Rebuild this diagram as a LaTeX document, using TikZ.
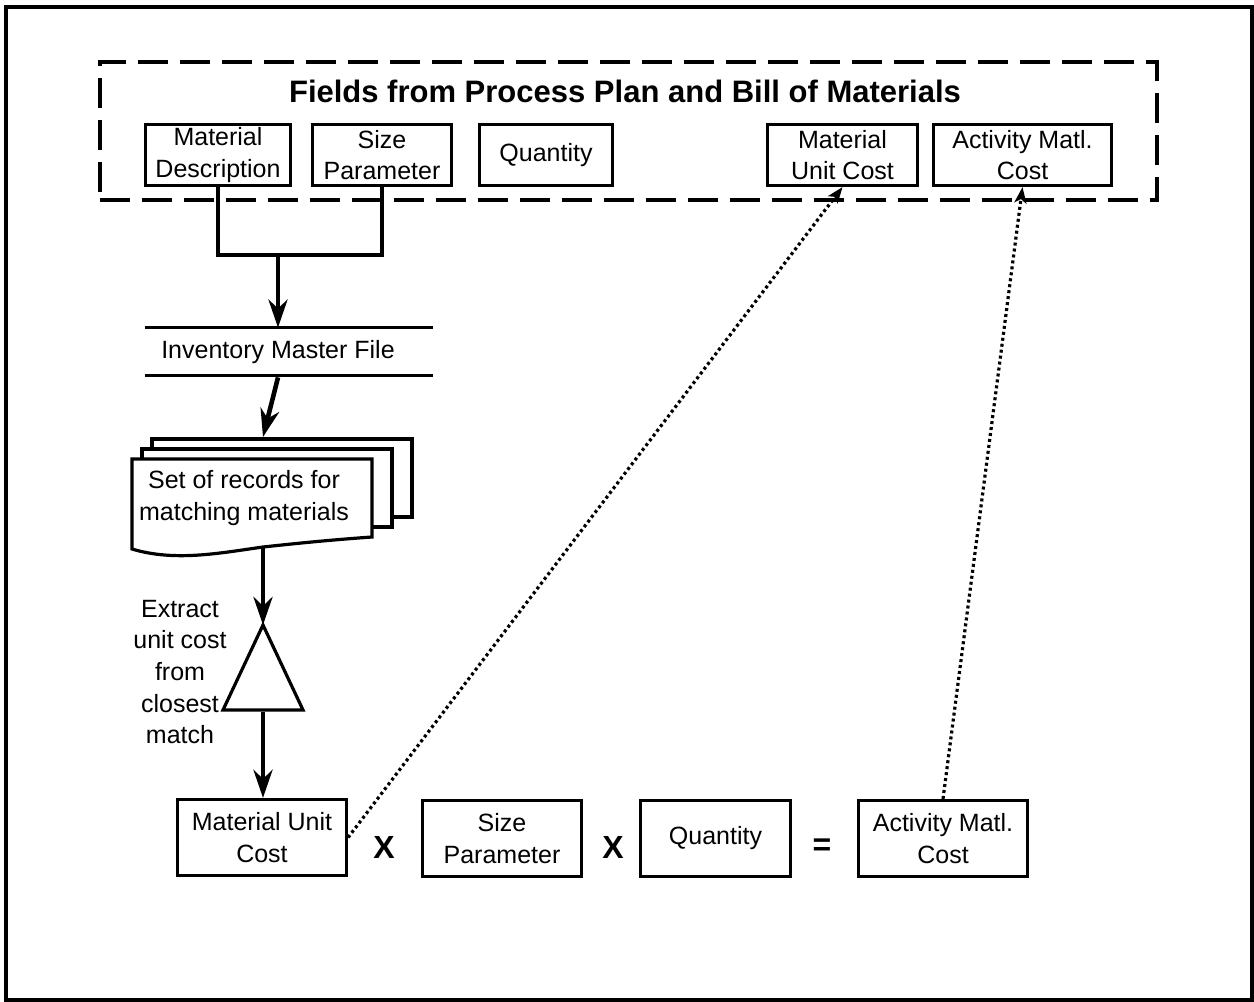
\documentclass[tikz,border=0pt]{standalone}
\usepackage{fontspec}
\setmainfont{Liberation Sans}
\usetikzlibrary{arrows.meta}

\begin{document}
\begin{tikzpicture}[x=0.5pt,y=-0.5pt,line join=miter,
  every node/.style={font=\fontsize{12.5}{15.8}\selectfont, align=center, inner sep=0pt},
  fieldbox/.style={draw, line width=1.6pt, fill=white, minimum height=30.5pt},
  calcbox/.style={draw, line width=1.6pt, fill=white, minimum height=38pt},
  thinline/.style={line width=1.6pt},
  flow/.style={line width=2.3pt, -{Stealth[length=14pt,width=9.5pt,inset=4.5pt]}},
  link/.style={line width=1.6pt, dash pattern=on 1.5pt off 1.5pt,
    -{Stealth[length=8pt,width=6pt,inset=2pt]}},
  op/.style={font=\fontsize{16}{18}\selectfont\bfseries}]

\useasboundingbox (0,0) rectangle (1254,1002);
% outer frame
\draw[line width=2pt] (5.5,7) rectangle (1251.5,999.5);

% group of input fields
\node[draw, line width=2pt, dash pattern=on 15pt off 6pt,
      minimum width=528.75pt, minimum height=68.75pt] (fields) at (628.25,130.75) {};
\node[anchor=base, font=\fontsize{15.5}{18}\selectfont\bfseries] (title) at (625,102)
  {Fields from Process Plan and Bill of Materials};

\node[fieldbox, minimum width=72.5pt] (md)  at (218,155)    {Material\\Description};
\node[fieldbox, minimum width=69.5pt] (sp)  at (382,155)    {Size\\Parameter};
\node[fieldbox, minimum width=66.5pt] (qt)  at (546,155)    {Quantity};
\node[fieldbox, minimum width=75pt]   (muc) at (842.5,155)  {Material\\Unit Cost};
\node[fieldbox, minimum width=89pt]   (amc) at (1022.5,155) {Activity Matl.\\Cost};

% lookup key joining description and size
\coordinate (jn) at (278,255);
\draw[line width=2.3pt] (md.south) -- (md.south |- jn) -- (sp.south |- jn) -- (sp.south);

% inventory master file (data store)
\node[minimum width=144pt, minimum height=23.5pt] (inv) at (289,351.5) {};
\node (invlabel) at (278,352) {Inventory Master File};
\draw[thinline] (inv.north west) -- (inv.north east);
\draw[thinline] (inv.south west) -- (inv.south east);
\draw[flow] (jn) -- (jn |- inv.north);

% stack of matching records
\draw[thinline, fill=white] (152,439) rectangle (412,517);
\draw[thinline, fill=white] (142,449) rectangle (392,527);
\draw[thinline, fill=white] (132,459) -- (372,459) -- (372,537)
  .. controls (330,540) and (300,543) .. (263,547)
  .. controls (220,553) and (175,562) .. (132,549) -- cycle;
\node (docs) at (244,498) {Set of records for\\matching materials};
\coordinate (docIn) at (263,437);
\coordinate (docOut) at (263,547);
\draw[flow] (invlabel.south |- inv.south) ++(0,2) -- (docIn);

% extraction step
\coordinate (triApex) at (263,625);
\coordinate (triBase) at (263,710);
\draw[thinline, fill=white] (triApex) -- (303,710) -- (223,710) -- cycle;
\node (extract) at (180,672) {Extract\\unit cost\\from\\closest\\match};
\draw[flow] (docOut) -- (triApex);

% cost calculation
\node[calcbox, minimum width=84.5pt] (muc2) at (262,837.5)   {Material Unit\\Cost};
\node[calcbox, minimum width=79.5pt] (sp2)  at (502,838.5)   {Size\\Parameter};
\node[calcbox, minimum width=75pt]   (qt2)  at (715.5,838.5) {Quantity};
\node[calcbox, minimum width=84.5pt] (amc2) at (943,838.5)   {Activity Matl.\\Cost};
\node[op] (x1) at (384,847) {X};
\node[op] (x2) at (613,847) {X};
\node[op] (eq) at (822,847) {=};

\draw[flow] (triBase) ++(0,2) -- (triBase |- muc2.north);

% results written back to the fields
\draw[link] (muc2.east) -- (muc.south);
\draw[link] (amc2.north) -- (amc.south);
\end{tikzpicture}
\end{document}
